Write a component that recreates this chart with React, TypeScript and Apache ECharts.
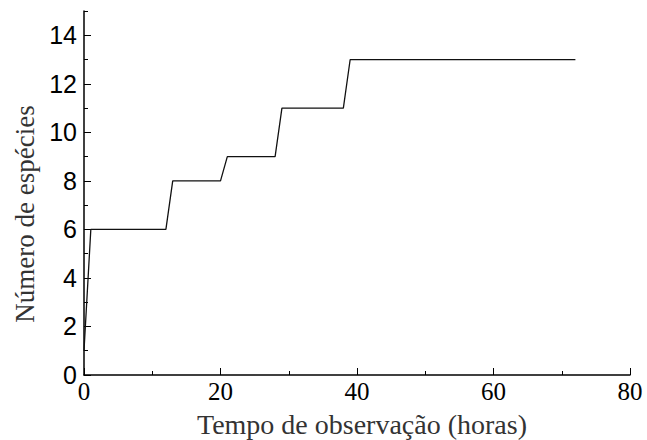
import React, { useEffect, useRef } from "react";
import * as echarts from "echarts";

const hours = [0, 1, 12, 13, 20, 21, 28, 29, 38, 39, 72];
const species = [1, 6, 6, 8, 8, 9, 9, 11, 11, 13, 13];
const yMajorTicks = [0, 2, 4, 6, 8, 10, 12, 14];
const yMinorTicks = [1, 3, 5, 7, 9, 11, 13, 15];
const xAxisName = "Tempo de observação (horas)";
const yAxisName = "Número de espécies";

export default function App() {
  const ref = useRef<HTMLDivElement>(null);
  useEffect(() => {
    if (!ref.current) return;
    document.body.style.margin = "0";
    document.body.style.overflow = "hidden";
    const chart = echarts.init(ref.current, null, { renderer: "svg" });
    const data = hours.map((h, i) => [h, species[i]]);
    chart.setOption({
      animation: false,
      grid: { left: 84, right: 17, top: 11, bottom: 65, containLabel: false, outerBoundsMode: "none" },
      graphic: [
        {
          type: "text",
          x: 362,
          y: 424,
          style: {
            text: xAxisName,
            fontFamily: "Liberation Serif",
            fontSize: 28,
            fill: "#333",
            align: "center",
            verticalAlign: "middle",
          },
        },
        {
          type: "text",
          x: 25,
          y: 214,
          rotation: Math.PI / 2,
          style: {
            text: yAxisName,
            fontFamily: "Liberation Serif",
            fontSize: 27,
            fill: "#333",
            align: "center",
            verticalAlign: "middle",
          },
        },
      ],
      xAxis: {
        type: "value",
        min: 0,
        max: 80,
        interval: 20,
        axisLine: { lineStyle: { color: "#000", width: 1.5 } },
        axisTick: { inside: true, length: 7, lineStyle: { color: "#000", width: 1 } },
        minorTick: { show: true, splitNumber: 2, length: 4, lineStyle: { color: "#000", width: 1 } },
        axisLabel: { fontFamily: "Liberation Serif", fontSize: 25, color: "#000", margin: 4 },
        splitLine: { show: false },
      },
      yAxis: [
        {
          type: "value",
          min: 0,
          max: 15,
          axisLine: { show: true, lineStyle: { color: "#000", width: 1.5 } },
          axisTick: { inside: true, length: 7, customValues: yMajorTicks, lineStyle: { color: "#000", width: 1 } },
          axisLabel: { customValues: yMajorTicks, fontFamily: "Liberation Sans", fontSize: 25, color: "#000", margin: 7 },
          splitLine: { show: false },
        },
        {
          type: "value",
          min: 0,
          max: 15,
          position: "left",
          axisLine: { show: false },
          axisTick: { show: true, inside: true, length: 4, customValues: yMinorTicks, lineStyle: { color: "#000", width: 1 } },
          axisLabel: { show: false },
          splitLine: { show: false },
        },
      ],
      series: [
        {
          type: "line",
          data,
          yAxisIndex: 0,
          symbol: "none",
          lineStyle: { color: "#111", width: 1.3 },
        },
      ],
    });
    return () => chart.dispose();
  }, []);
  return <div ref={ref} style={{ width: 647, height: 440 }} />;
}
